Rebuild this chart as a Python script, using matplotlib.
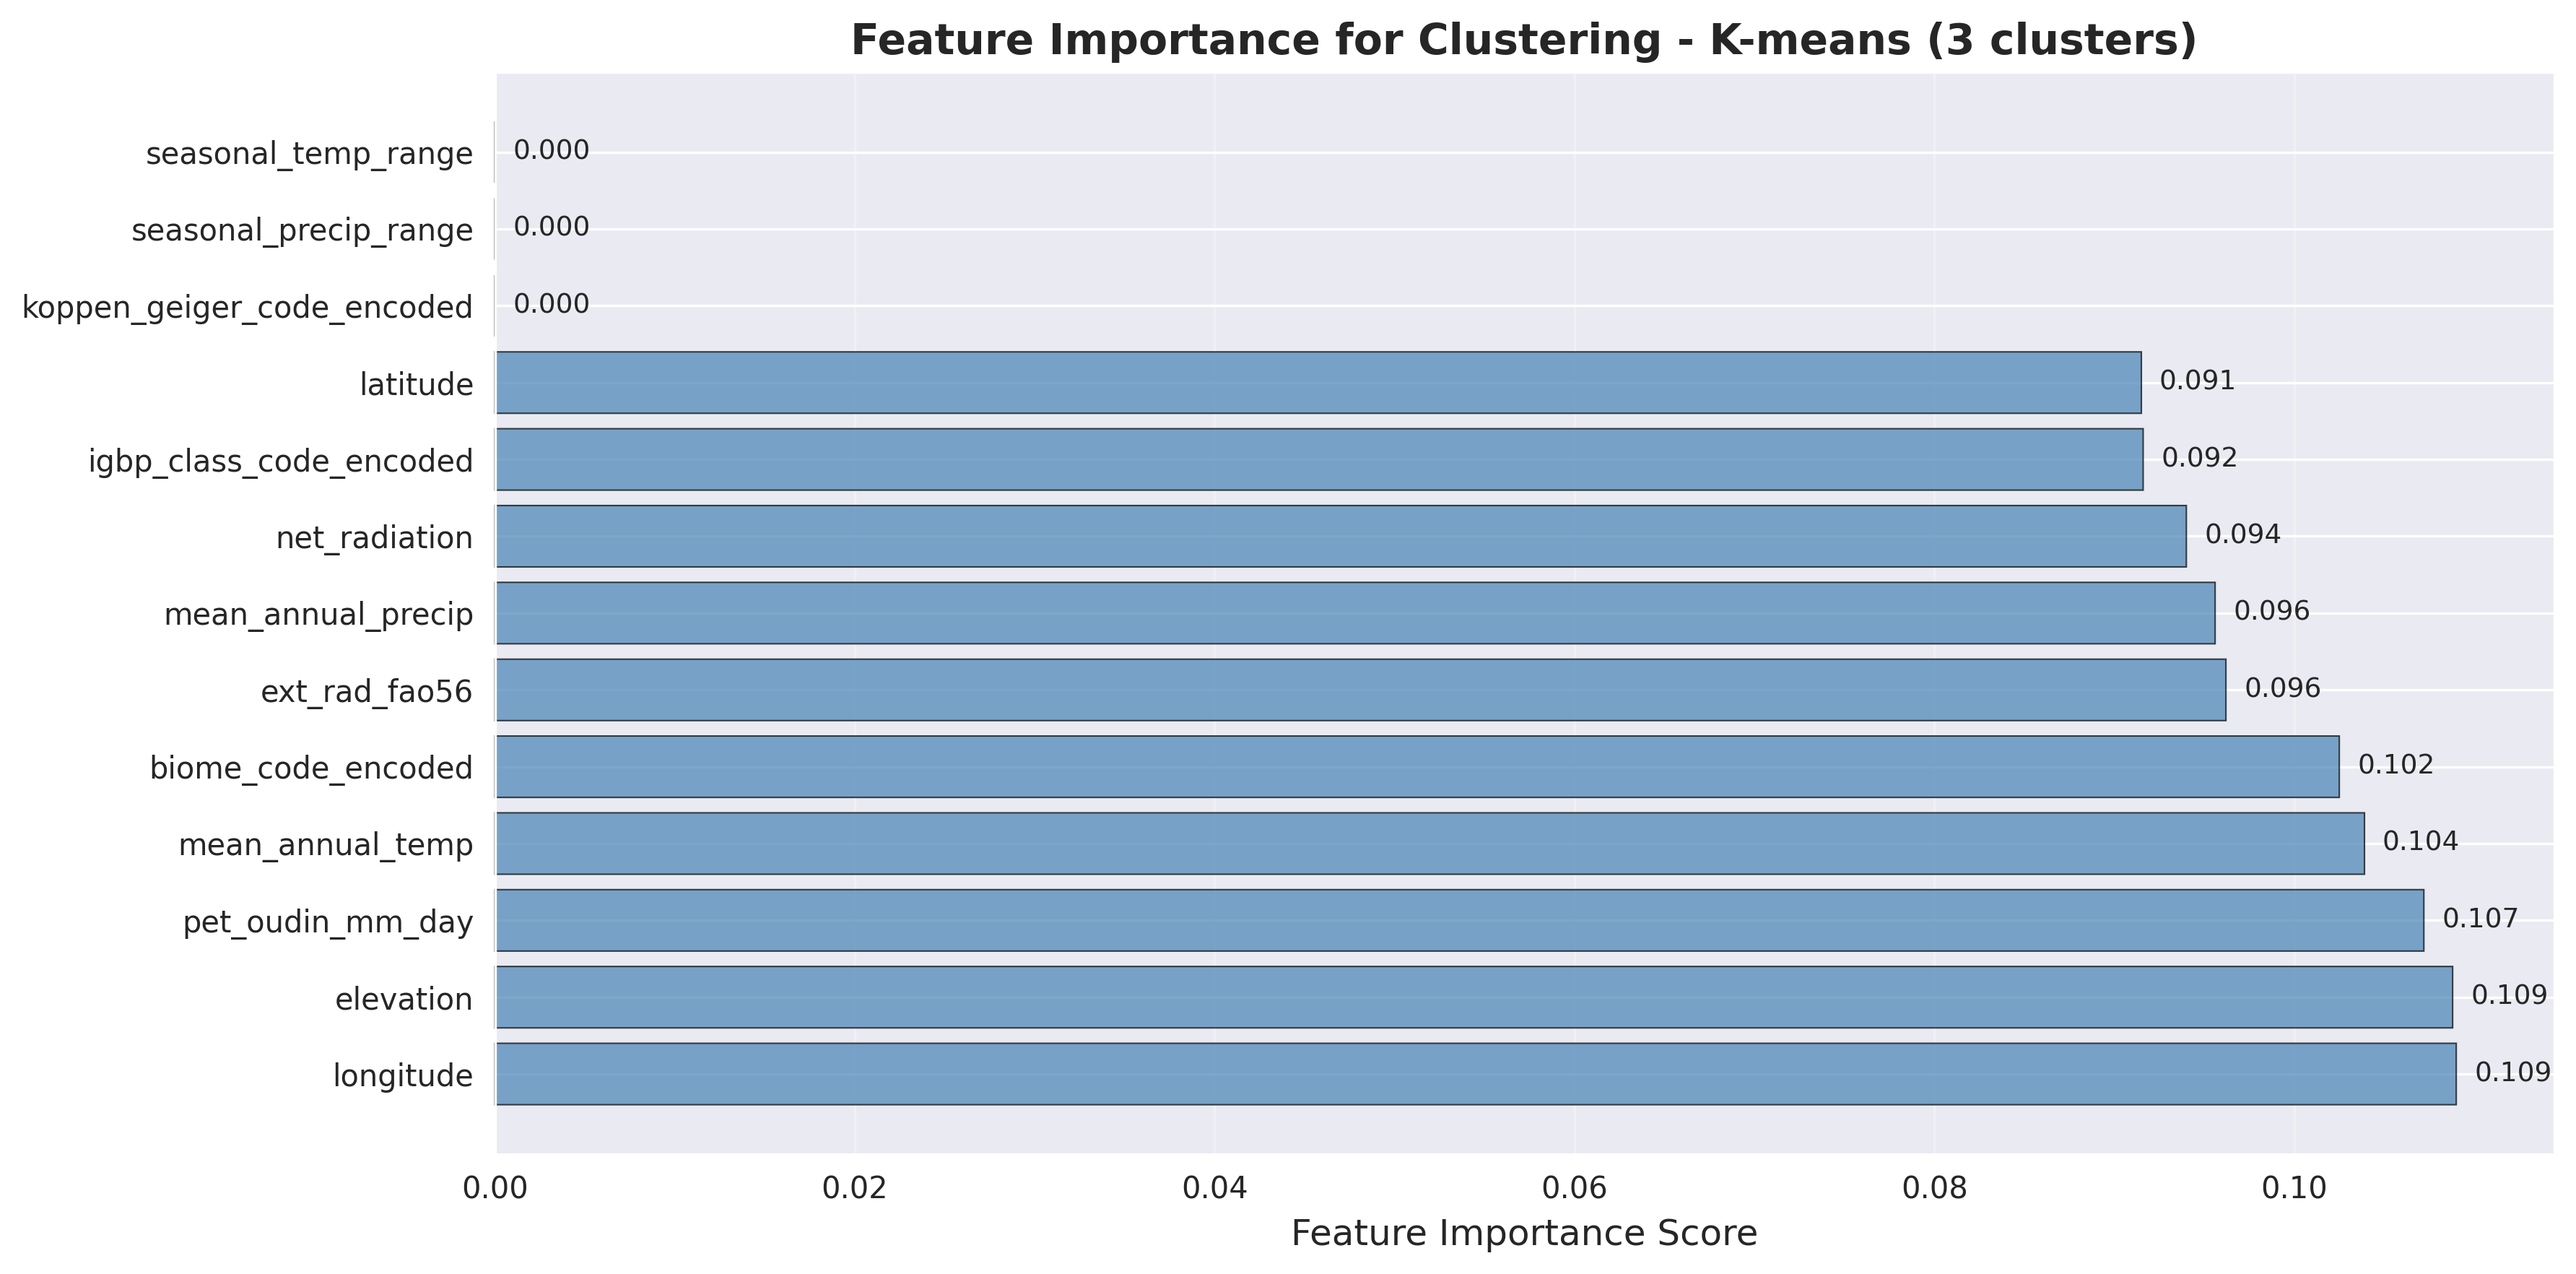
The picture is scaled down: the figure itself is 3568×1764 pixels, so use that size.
import numpy as np
import matplotlib
matplotlib.use("Agg")
import matplotlib.pyplot as plt
import seaborn as sns

#------------------------------------------------Data (bottom -> top)

features = ["longitude", "elevation", "pet_oudin_mm_day", "mean_annual_temp",
            "biome_code_encoded", "ext_rad_fao56", "mean_annual_precip",
            "net_radiation", "igbp_class_code_encoded", "latitude",
            "koppen_geiger_code_encoded", "seasonal_precip_range",
            "seasonal_temp_range"]
importance = [0.1090, 0.1088, 0.1072, 0.1039, 0.1025, 0.0962, 0.0956,
              0.0940, 0.0916, 0.0915, 0.0, 0.0, 0.0]

#------------------------------------------------Style

sns.set_style("darkgrid")
plt.rcParams['font.family'] = ['DejaVu Sans']

#------------------------------------------------Plot

fig = plt.figure(figsize=(3568/300, 1764/300), dpi=300)
ax = fig.add_axes([685.5/3568, 1 - 1597.7/1764, (3538-685.5)/3568, (1597.7-100)/1764])

y = np.arange(len(features))
bars = ax.barh(y, importance, color='steelblue', alpha=0.7,
               edgecolor='black', linewidth=0.5, clip_on=False)
for b in bars:
    b.set_snap(False)   # so the zero-width bars still show their edge

ax.set_yticks(y)
ax.set_yticklabels(features, fontsize=10)
ax.tick_params(axis='x', labelsize=10)
ax.set_xlabel('Feature Importance Score', fontsize=12)
ax.set_title('Feature Importance for Clustering - K-means (3 clusters)',
             fontsize=14, fontweight='bold')
ax.grid(axis='x', alpha=0.3)

for bar, v in zip(bars, importance):
    ax.text(v + 0.001, bar.get_y() + bar.get_height()/2, f'{v:.3f}',
            va='center', ha='left', fontsize=9)

fig.savefig('out.png', dpi=300)
